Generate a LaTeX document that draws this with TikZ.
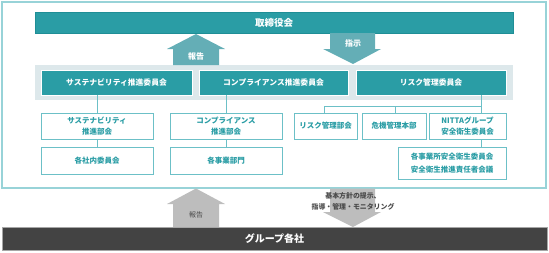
\documentclass[tikz,border=0pt]{standalone}
\usepackage{fontspec}
\setmainfont{Noto Sans CJK JP}
\definecolor{teal1}{HTML}{2A9DA5}
\definecolor{teal2}{HTML}{1F8E96}
\definecolor{tealarrow}{HTML}{64AEB6}
\definecolor{tealline}{HTML}{6CC0C7}
\definecolor{frame}{HTML}{98D3D8}
\definecolor{band}{HTML}{DDE8EB}
\definecolor{grayarrow}{HTML}{BDBDBD}
\definecolor{darkbar}{HTML}{434343}
\definecolor{txtgray}{HTML}{4A4A4A}
\tikzset{
  topbar/.style={rectangle, fill=teal1, draw=teal2, line width=0.8pt, text=white, font=\fontsize{9.5}{11}\selectfont\bfseries, inner sep=0pt},
  cmte/.style={rectangle, fill=teal1, draw=white, line width=0.8pt, text=white, font=\fontsize{7.8}{9}\selectfont\bfseries, inner sep=0pt, minimum height=25pt},
  subbox/.style={rectangle, fill=white, draw=tealline, line width=0.8pt, text=teal1, font=\fontsize{7.5}{10.5}\selectfont\bfseries, align=center, inner sep=0pt, minimum height=26pt},
  conn/.style={draw=tealline, line width=0.8pt},
  arrowlbl/.style={font=\fontsize{8}{9}\selectfont\bfseries, inner sep=0pt},
}
\begin{document}
\begin{tikzpicture}[x=1pt,y=-1pt]
\useasboundingbox (0,0) rectangle (549,252);
% outer frame
\draw[frame, line width=1.5pt] (2,2) rectangle (546,188);
% band
\fill[band] (35,65) rectangle (513,100);
% top bar
\node[topbar, minimum width=478pt, minimum height=21pt] (top) at (274,22.5) {取締役会};
% arrows top
\fill[tealarrow] (196,34) -- (225,49) -- (219,49) -- (219,65) -- (173,65) -- (173,49) -- (167,49) -- cycle;
\node[arrowlbl, text=white] (rep1) at (196,56) {報告};
\fill[tealarrow] (330,33) -- (375,33) -- (375,49) -- (381,49) -- (353,64) -- (323,49) -- (330,49) -- cycle;
\node[arrowlbl, text=white] (inst) at (353,43) {指示};
% committees
\node[cmte, minimum width=151pt] (c1) at (116.5,82.5) {サステナビリティ推進委員会};
\node[cmte, minimum width=149pt] (c2) at (273.5,82.5) {コンプライアンス推進委員会};
\node[cmte, minimum width=150pt] (c3) at (431,82.5) {リスク管理委員会};
% sub boxes
\node[subbox, minimum width=112pt] (s1) at (97,126) {サステナビリティ\\推進部会};
\node[subbox, minimum width=112pt] (s2) at (226,126) {コンプライアンス\\推進部会};
\node[subbox, minimum width=63pt] (r1) at (325.5,126) {リスク管理部会};
\node[subbox, minimum width=64pt] (r2) at (394,126) {危機管理本部};
\node[subbox, minimum width=77pt] (r3) at (467.5,126) {NITTAグループ\\安全衛生委員会};
\node[subbox, minimum width=112pt, minimum height=27pt] (t1) at (97,160.5) {各社内委員会};
\node[subbox, minimum width=112pt, minimum height=27pt] (t2) at (226,160.5) {各事業部門};
\node[subbox, minimum width=108pt, minimum height=32pt, font=\fontsize{7.5}{13}\selectfont\bfseries] (t3) at (452,163) {各事業所安全衛生委員会\\安全衛生推進責任者会議};
% connectors
\coordinate (j) at (481,106);
\coordinate (jl) at (324,106);
\coordinate (jm) at (395,106);
\draw[conn] (s1.north) -- (s1.north |- c1.south);
\draw[conn] (t1.north) -- (s1.south);
\draw[conn] (s2.north) -- (s2.north |- c2.south);
\draw[conn] (t2.north) -- (s2.south);
\draw[conn] (j |- c3.south) -- (j) -- (jl) -- (jl |- r1.north);
\draw[conn] (jm) -- (jm |- r2.north);
\draw[conn] (j) -- (j |- r3.north);
\draw[conn] (j |- r3.south) -- (j |- t3.north);
% bottom arrows
\fill[grayarrow] (196,188.5) -- (225,204) -- (219,204) -- (219,227) -- (173,227) -- (173,204) -- (167,204) -- cycle;
\node[arrowlbl, text=txtgray, font=\fontsize{7}{8}\selectfont] (rep2) at (196,215) {報告};
\fill[grayarrow] (330,188.5) -- (375,188.5) -- (375,212) -- (381,212) -- (353,227) -- (323,212) -- (330,212) -- cycle;
\node[text=txtgray, font=\fontsize{6.9}{11}\selectfont\bfseries, align=center, inner sep=0pt] (pol) at (353,201.5) {基本方針の提示、\\指導・管理・モニタリング};
% bottom bar
\node[rectangle, fill=darkbar, draw=gray!70, line width=0.6pt, text=white, font=\fontsize{10}{11}\selectfont\bfseries, minimum width=545pt, minimum height=23pt, inner sep=0pt] (grp) at (274.5,238.5) {グループ各社};
\end{tikzpicture}
\end{document}
